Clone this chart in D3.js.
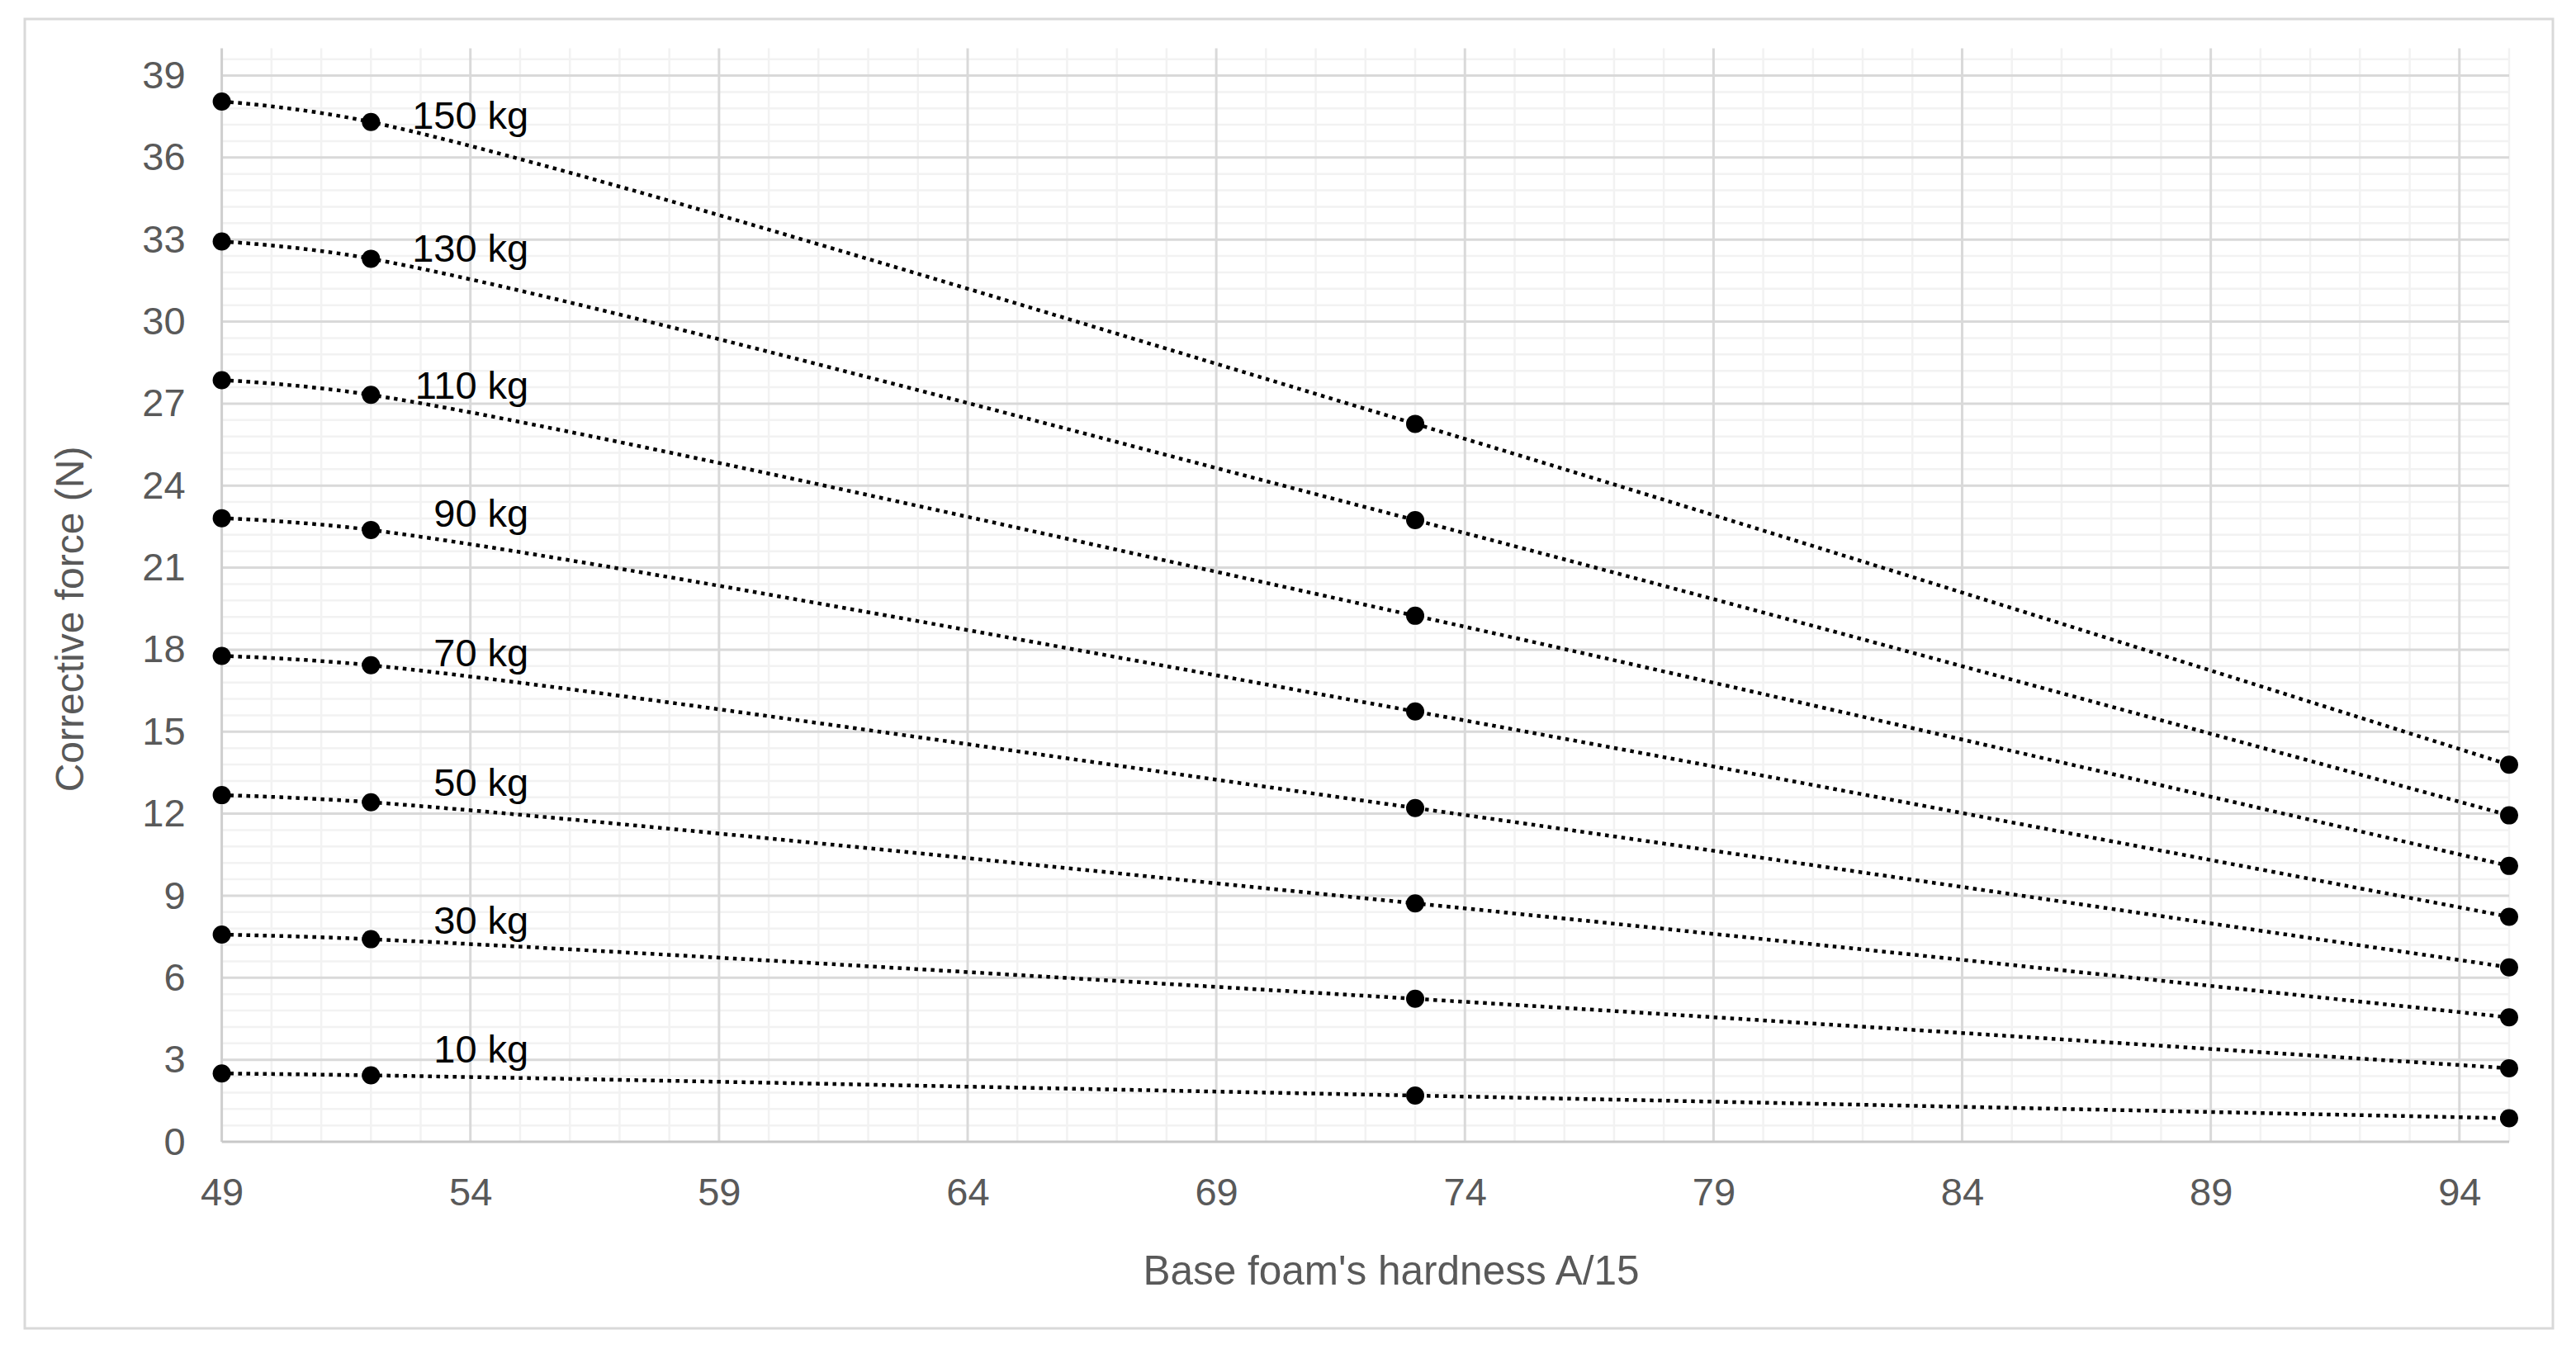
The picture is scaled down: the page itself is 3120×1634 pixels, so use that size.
<!DOCTYPE html>
<html>
<head>
<meta charset="utf-8">
<script src="https://cdn.jsdelivr.net/npm/d3@7"></script>
<style>
  html, body { margin: 0; padding: 0; background: #fff; }
  svg { display: block; }
  text { font-family: "Liberation Sans", Arial, sans-serif; }
</style>
</head>
<body>
<svg id="chart" width="3120" height="1634"></svg>
<script>
// ---- data ----
const hardness = [49, 52, 73, 95];
const masses = ["10 kg", "30 kg", "50 kg", "70 kg", "90 kg", "110 kg", "130 kg", "150 kg"];
const force10  = [2.50, 2.43, 1.69, 0.86];
const force30  = [7.58, 7.41, 5.23, 2.69];
const force50  = [12.68, 12.42, 8.72, 4.55];
const force70  = [17.77, 17.43, 12.21, 6.38];
const force90  = [22.81, 22.38, 15.74, 8.23];
const force110 = [27.86, 27.32, 19.24, 10.09];
const force130 = [32.93, 32.30, 22.74, 11.94];
const force150 = [38.05, 37.30, 26.26, 13.79];
const labelLevel = [3.41, 8.12, 13.17, 17.91, 23.01, 27.69, 32.70, 37.57];
const xTicks = [49, 54, 59, 64, 69, 74, 79, 84, 89, 94];
const yTicks = [0, 3, 6, 9, 12, 15, 18, 21, 24, 27, 30, 33, 36, 39];
const xTitle = "Base foam's hardness A/15";
const yTitle = "Corrective force (N)";

(function () {
const seriesValues = [force10, force30, force50, force70, force90, force110, force130, force150];
const series = masses.map((name, i) => ({
  name,
  labelY: labelLevel[i],
  points: hardness.map((h, j) => ({ x: h, y: seriesValues[i][j] }))
}));

// ---- layout ----
const svg = d3.select("#chart");
const pL = 268.6, pR = 3039, pT = 58.4, pB = 1383;
const x = d3.scaleLinear().domain([49, 95]).range([pL, pR]);
const y = d3.scaleLinear().domain([0, 40]).range([pB, pT]);
const fontSize = 47;
const gray = "#595959";

svg.append("rect").attr("width", 3120).attr("height", 1634).attr("fill", "#fff");
svg.append("rect")
  .attr("x", 30).attr("y", 23).attr("width", 3062).attr("height", 1586)
  .attr("fill", "none").attr("stroke", "#d9d9d9").attr("stroke-width", 3);

// minor grid
const minorX = d3.range(50, 95.5, 1).filter(v => !xTicks.includes(v));
const minorY = d3.range(1, 67).map(i => +(i * 0.6).toFixed(1)).filter(v => Math.abs(v / 3 - Math.round(v / 3)) > 1e-6);
const grid = svg.append("g");
grid.selectAll(".mx").data(minorX).join("line")
  .attr("x1", d => x(d)).attr("x2", d => x(d)).attr("y1", pT).attr("y2", pB)
  .attr("stroke", "#f2f2f2").attr("stroke-width", 2.5);
grid.selectAll(".my").data(minorY).join("line")
  .attr("x1", pL).attr("x2", pR).attr("y1", d => y(d)).attr("y2", d => y(d))
  .attr("stroke", "#f2f2f2").attr("stroke-width", 2.5);
// major grid
grid.selectAll(".Mx").data(xTicks.slice(1)).join("line")
  .attr("x1", d => x(d)).attr("x2", d => x(d)).attr("y1", pT).attr("y2", pB)
  .attr("stroke", "#d9d9d9").attr("stroke-width", 3);
grid.selectAll(".My").data(yTicks.slice(1)).join("line")
  .attr("x1", pL).attr("x2", pR).attr("y1", d => y(d)).attr("y2", d => y(d))
  .attr("stroke", "#d9d9d9").attr("stroke-width", 3);
// axis lines
grid.append("line").attr("x1", x(49)).attr("x2", x(49)).attr("y1", pT).attr("y2", pB)
  .attr("stroke", "#cfcfcf").attr("stroke-width", 3);
grid.append("line").attr("x1", pL).attr("x2", pR).attr("y1", y(0)).attr("y2", y(0))
  .attr("stroke", "#c8c8c8").attr("stroke-width", 3);

// axes (labels only)
const xAxis = svg.append("g").attr("transform", `translate(0,${pB})`)
  .call(d3.axisBottom(x).tickValues(xTicks).tickSize(0).tickPadding(44).tickFormat(d3.format("d")));
const yAxis = svg.append("g").attr("transform", `translate(${pL},0)`)
  .call(d3.axisLeft(y).tickValues(yTicks).tickSize(0).tickPadding(44).tickFormat(d3.format("d")));
[xAxis, yAxis].forEach(g => {
  g.select(".domain").remove();
  g.selectAll("text").attr("font-size", fontSize).attr("fill", gray)
    .attr("font-family", '"Liberation Sans", Arial, sans-serif');
});

// titles
svg.append("text").attr("x", 1685).attr("y", 1556).attr("text-anchor", "middle")
  .attr("font-size", 49.5).attr("fill", gray).text(xTitle);
svg.append("text").attr("transform", "translate(101,750) rotate(-90)").attr("text-anchor", "middle")
  .attr("font-size", 48).attr("fill", gray).text(yTitle);

// lines
const line = d3.line().x(d => x(d.x)).y(d => y(d.y)).curve(d3.curveCatmullRom.alpha(0.5));
const sg = svg.append("g").selectAll("g").data(series).join("g");
sg.append("path").attr("d", d => line(d.points))
  .attr("fill", "none").attr("stroke", "#000").attr("stroke-width", 4.5)
  .attr("stroke-dasharray", "4.5 5.5");
sg.selectAll("circle").data(d => d.points).join("circle")
  .attr("cx", d => x(d.x)).attr("cy", d => y(d.y)).attr("r", 11).attr("fill", "#000");
sg.append("text")
  .attr("x", x(hardness[1]) + 191).attr("y", d => y(d.labelY)).attr("dy", "0.36em")
  .attr("text-anchor", "end").attr("font-size", fontSize).attr("fill", "#000")
  .text(d => d.name);
})();
</script>
</body>
</html>
